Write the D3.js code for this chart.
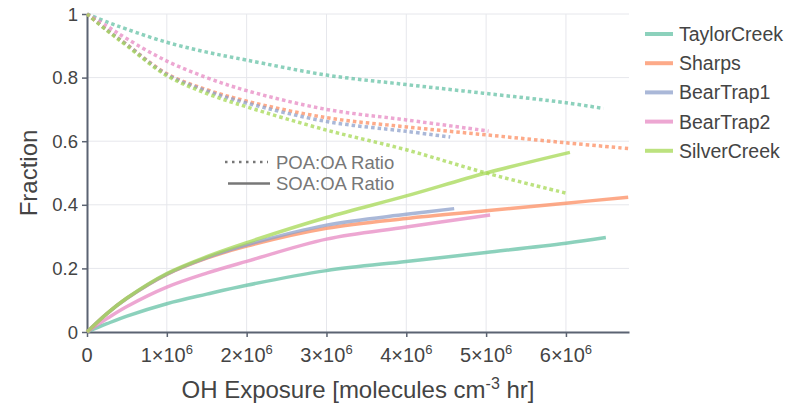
<!DOCTYPE html>
<html>
<head>
<meta charset="utf-8">
<script src="https://cdn.jsdelivr.net/npm/d3@7"></script>
<style>
  body { margin: 0; background: #fff; }
  text { font-family: "Liberation Sans", Arial, sans-serif; }
</style>
</head>
<body>
<div id="chart"></div>
<script>
// site names (legend order)
var sites = ["TaylorCreek", "Sharps", "BearTrap1", "BearTrap2", "SilverCreek"];
var colors = ["#66c2a5", "#fc8d62", "#8da0cb", "#e78ac3", "#a6d854"];

// OH exposure in units of 1e6 molecules cm-3 hr
var soaX = {
  TaylorCreek: [0, 0.25, 0.5, 1, 1.5, 2, 3, 4, 5, 6, 6.5],
  Sharps:      [0, 0.25, 0.5, 1, 1.5, 2, 3, 4, 5, 6, 6.78],
  BearTrap1:   [0, 0.25, 0.5, 1, 1.5, 2, 3, 4, 4.6],
  BearTrap2:   [0, 0.25, 0.5, 1, 1.5, 2, 3, 4, 5.05],
  SilverCreek: [0, 0.25, 0.5, 1, 1.5, 2, 3, 4, 5, 6.05]
};
var soaY = {
  TaylorCreek: [0, 0.026, 0.050, 0.089, 0.119, 0.147, 0.193, 0.222, 0.25, 0.279, 0.297],
  Sharps:      [0, 0.058, 0.106, 0.181, 0.232, 0.270, 0.326, 0.357, 0.381, 0.405, 0.424],
  BearTrap1:   [0, 0.058, 0.106, 0.182, 0.234, 0.274, 0.336, 0.370, 0.388],
  BearTrap2:   [0, 0.042, 0.080, 0.141, 0.185, 0.222, 0.292, 0.330, 0.368],
  SilverCreek: [0, 0.058, 0.107, 0.184, 0.237, 0.281, 0.360, 0.428, 0.500, 0.565]
};
var poaX = {
  TaylorCreek: [0, 0.25, 0.5, 1, 1.5, 2, 3, 4, 5, 6, 6.47],
  Sharps:      [0, 0.25, 0.5, 1, 1.5, 2, 3, 4, 5, 6, 6.78],
  BearTrap1:   [0, 0.25, 0.5, 1, 1.5, 2, 3, 4, 4.55],
  BearTrap2:   [0, 0.25, 0.5, 1, 1.5, 2, 3, 4, 5.03],
  SilverCreek: [0, 0.25, 0.5, 1, 1.5, 2, 3, 4, 5, 6.03]
};
var poaY = {
  TaylorCreek: [1, 0.975, 0.952, 0.911, 0.880, 0.855, 0.808, 0.778, 0.750, 0.721, 0.703],
  Sharps:      [1, 0.950, 0.904, 0.812, 0.762, 0.726, 0.674, 0.645, 0.620, 0.595, 0.577],
  BearTrap1:   [1, 0.950, 0.903, 0.810, 0.758, 0.720, 0.662, 0.631, 0.613],
  BearTrap2:   [1, 0.962, 0.922, 0.852, 0.800, 0.759, 0.700, 0.667, 0.632],
  SilverCreek: [1, 0.948, 0.900, 0.806, 0.750, 0.708, 0.635, 0.573, 0.500, 0.435]
};

var xTicks = [0, 1, 2, 3, 4, 5, 6];
var yTicks = [0, 0.2, 0.4, 0.6, 0.8, 1];

var W = 789, H = 410;
var margin = {top: 14, left: 87, right: 160, bottom: 78};

var svg = d3.select("#chart").append("svg")
  .attr("width", W).attr("height", H);

var x = d3.scaleLinear().domain([0, 6.79]).range([margin.left, W - margin.right]);
var y = d3.scaleLinear().domain([0, 1]).range([H - margin.bottom, margin.top]);

// grid
svg.append("g").selectAll("line").data(xTicks.slice(1)).enter().append("line")
  .attr("x1", d => x(d)).attr("x2", d => x(d))
  .attr("y1", y(0)).attr("y2", y(1))
  .attr("stroke", "#e6e7ec").attr("stroke-width", 1);
svg.append("g").selectAll("line").data(yTicks.slice(1)).enter().append("line")
  .attr("x1", x(0)).attr("x2", x.range()[1])
  .attr("y1", d => y(d)).attr("y2", d => y(d))
  .attr("stroke", "#e6e7ec").attr("stroke-width", 1);

// axes
var xAxis = svg.append("g")
  .attr("transform", "translate(0," + y(0) + ")")
  .call(d3.axisBottom(x).tickValues(xTicks).tickSize(5).tickSizeOuter(0).tickFormat(""));
var yAxis = svg.append("g")
  .attr("transform", "translate(" + x(0) + ",0)")
  .call(d3.axisLeft(y).tickValues(yTicks).tickSize(5).tickSizeOuter(0).tickFormat(""));
[xAxis, yAxis].forEach(function(a) {
  a.select(".domain").attr("stroke", "#5b6372").attr("stroke-width", 2);
  a.selectAll(".tick line").attr("stroke", "#5b6372").attr("stroke-width", 1.5);
});

// tick labels
svg.append("g").selectAll("text").data(yTicks).enter().append("text")
  .attr("x", x(0) - 9).attr("y", d => y(d) + 6.5)
  .attr("text-anchor", "end").attr("font-size", 18.5).attr("fill", "#444")
  .text(d => d3.format("~g")(d));

var xl = svg.append("g").selectAll("text").data(xTicks).enter().append("text")
  .attr("x", d => x(d)).attr("y", y(0) + 30)
  .attr("text-anchor", "middle").attr("font-size", 20).attr("fill", "#444");
xl.each(function(d) {
  var t = d3.select(this);
  if (d === 0) { t.text("0"); return; }
  t.append("tspan").text(d + "\u00d710");
  t.append("tspan").attr("dy", -8).attr("font-size", 13).text("6");
});

// axis titles
svg.append("text")
  .attr("transform", "translate(37," + ((y(0) + y(1)) / 2) + ") rotate(-90)")
  .attr("text-anchor", "middle").attr("font-size", 24).attr("fill", "#444")
  .text("Fraction");
var xt = svg.append("text")
  .attr("x", (x.range()[0] + x.range()[1]) / 2).attr("y", 398)
  .attr("text-anchor", "middle").attr("font-size", 24).attr("fill", "#444");
xt.append("tspan").text("OH Exposure [molecules cm");
xt.append("tspan").attr("dy", -9).attr("font-size", 16).text("-3");
xt.append("tspan").attr("dy", 9).text(" hr]");

var line = d3.line()
  .x(d => x(d[0])).y(d => y(d[1]))
  .curve(d3.curveCatmullRom.alpha(0.5));

function pts(xs, ys) { return xs.map((v, i) => [v, ys[i]]); }

// dotted POA:OA lines
sites.forEach(function(s, i) {
  svg.append("path")
    .datum(pts(poaX[s], poaY[s]))
    .attr("fill", "none")
    .attr("stroke", colors[i]).attr("stroke-opacity", 0.75)
    .attr("stroke-width", 3.5)
    .attr("stroke-dasharray", "3.5 3")
    .attr("d", line);
});
// solid SOA:OA lines
sites.forEach(function(s, i) {
  svg.append("path")
    .datum(pts(soaX[s], soaY[s]))
    .attr("fill", "none")
    .attr("stroke", colors[i]).attr("stroke-opacity", 0.75)
    .attr("stroke-width", 3.5)
    .attr("d", line);
});

// ratio key
var key = svg.append("g").attr("fill", "#777");
key.append("line").attr("x1", 225).attr("x2", 268).attr("y1", 162).attr("y2", 162)
  .attr("stroke", "#777").attr("stroke-width", 2.5).attr("stroke-dasharray", "2.5 4.5");
key.append("line").attr("x1", 228).attr("x2", 270).attr("y1", 183.5).attr("y2", 183.5)
  .attr("stroke", "#777").attr("stroke-width", 2.5);
key.append("text").attr("x", 276).attr("y", 168.5).attr("font-size", 18.5).text("POA:OA Ratio");
key.append("text").attr("x", 276).attr("y", 190).attr("font-size", 18.5).text("SOA:OA Ratio");

// site legend
var leg = svg.append("g").selectAll("g").data(sites).enter().append("g")
  .attr("transform", (d, i) => "translate(645," + (34 + i * 29.2) + ")");
leg.append("line").attr("x1", 0).attr("x2", 28)
  .attr("stroke", (d, i) => colors[i]).attr("stroke-opacity", 0.75).attr("stroke-width", 4);
leg.append("text").attr("x", 34).attr("y", 7)
  .attr("font-size", 19.5).attr("fill", "#444").text(d => d);
</script>
</body>
</html>
